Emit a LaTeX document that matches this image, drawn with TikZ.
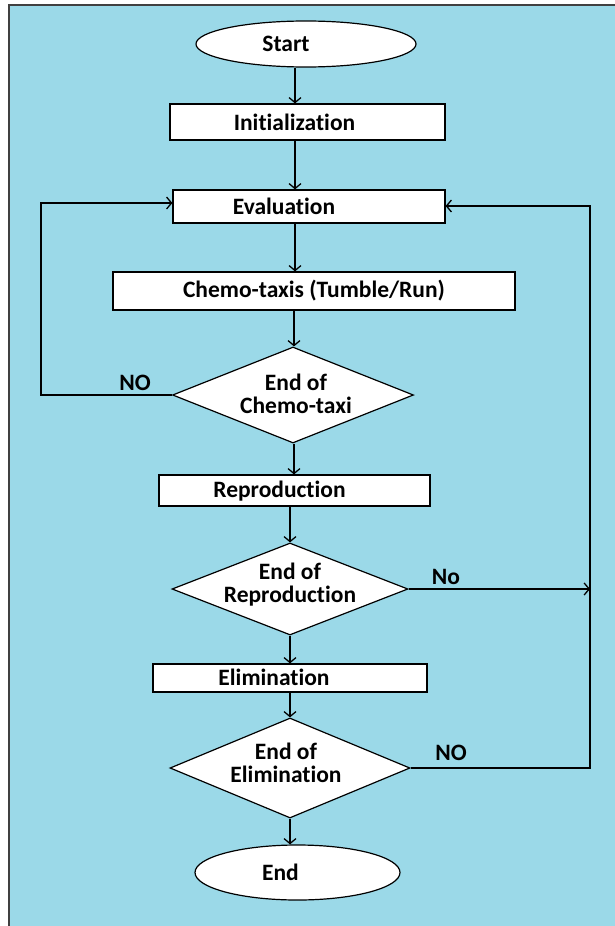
\documentclass[tikz,border=0pt]{standalone}
\usepackage{fontspec}
\setmainfont{Carlito}[Ligatures={NoCommon,NoContextual,NoRequired}, Contextuals={NoAlternate}]
\usetikzlibrary{shapes.geometric,arrows.meta}
\definecolor{panel}{RGB}{155,217,232}
\definecolor{framegray}{RGB}{64,64,64}
\begin{document}
\begin{tikzpicture}[x=1pt,y=-1pt,
  every node/.style={font=\bfseries\fontsize{23.5}{23}\selectfont, text=black},
  box/.style={draw=black, line width=1.2pt, fill=white, inner sep=0pt},
  procbox/.style={box, rectangle},
  term/.style={box, ellipse},
  decision/.style={box, diamond},
  flow/.style={line width=1.3pt, -{Straight Barb[length=5pt,width=12pt]}},
  tag/.style={inner sep=0pt}
]
\useasboundingbox (0,0) rectangle (615,926);
\fill[white] (0,0) rectangle (615,926);
\fill[panel] (9,5) rectangle (615,926);
\draw[line width=1.5pt, framegray] (9,926) -- (9,5) -- (615,5);

% main column
\node[term, minimum width=220, minimum height=46,
      label={[xshift=-20pt]center:Start}] (start) at (306,44) {};
\node[procbox, minimum width=275, minimum height=36,
      label={[xshift=-13pt]center:Initialization}] (init) at (307.5,122) {};
\node[procbox, minimum width=272, minimum height=33,
      label={[xshift=-25pt]center:Evaluation}] (eval) at (309,206.5) {};
\node[procbox, minimum width=402, minimum height=38,
      label={center:Chemo-taxis (Tumble/Run)}] (chemo) at (314,291) {};
\node[decision, minimum width=241, minimum height=96,
      label={[align=center, xshift=3pt, yshift=1pt]center:End of\\Chemo-taxi}] (dchemo) at (293,395) {};
\node[procbox, minimum width=271, minimum height=31,
      label={[xshift=-15pt, yshift=-1pt]center:Reproduction}] (repro) at (294.5,490.5) {};
\node[decision, minimum width=236, minimum height=92,
      label={[align=center, yshift=4pt]center:End of\\Reproduction}] (drepro) at (290,589) {};
\node[procbox, minimum width=274, minimum height=28,
      label={[xshift=-16pt, yshift=1pt]center:Elimination}] (elim) at (290,678) {};
\node[decision, minimum width=240, minimum height=100,
      label={[align=center, xshift=-4pt, yshift=5pt]center:End of\\Elimination}] (delim) at (290,768) {};
\node[term, minimum width=205, minimum height=55,
      label={[xshift=-17pt]center:End}] (end) at (297.5,872.5) {};

% spine and loop rails
\coordinate (spineA) at (295,0);
\coordinate (spineB) at (294,0);
\coordinate (spineC) at (290,0);
\coordinate (leftrail) at (41,203);
\coordinate (rightrail) at (590,206);

\draw[flow] (start.south -| spineA) -- (init.north -| spineA);
\draw[flow] (init.south -| spineA) -- (eval.north -| spineA);
\draw[flow] (eval.south -| spineA) -- (chemo.north -| spineA);
\draw[flow] (chemo.south -| spineB) -- (dchemo.north -| spineB);
\draw[flow] (dchemo.south -| spineB) -- (repro.north -| spineB);
\draw[flow] (repro.south -| spineC) -- (drepro.north);
\draw[flow] (drepro.south) -- (elim.north -| spineC);
\draw[flow] (elim.south -| spineC) -- (delim.north);
\draw[flow] (delim.south) -- (end.north -| spineC);

% NO from chemo-taxis test back to evaluation
\draw[flow] (dchemo.west) -| (leftrail) -- (leftrail -| eval.west);
\node[tag] (no1) at (135,383) {NO};

% No from reproduction test joins the right rail
\draw[flow] (drepro.east) -- (drepro.east -| rightrail);
\node[tag] (no2) at (446,577) {No};

% NO from elimination test back to evaluation
\draw[flow] (delim.east) -| (rightrail) -- (eval.east |- rightrail);
\node[tag] (no3) at (451,753) {NO};
\end{tikzpicture}
\end{document}
